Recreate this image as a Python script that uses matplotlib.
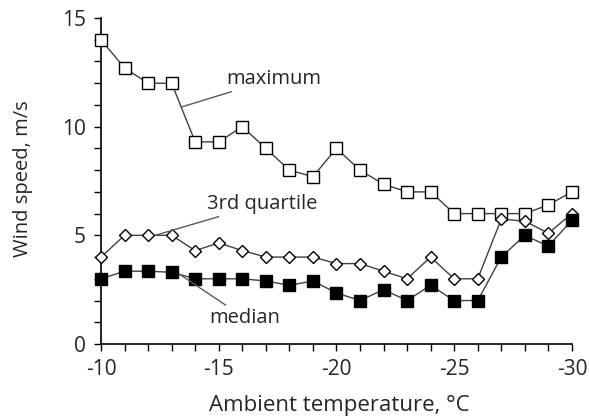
import matplotlib.pyplot as plt
import numpy as np

# ambient temperature, degC
temps = np.arange(-10, -31, -1)

# wind speed, m/s
maximum = [14.0, 12.7, 12.0, 12.0, 9.3, 9.3, 10.0, 9.0, 8.0, 7.7, 9.0,
           8.0, 7.35, 7.0, 7.0, 6.0, 6.0, 6.0, 6.0, 6.4, 7.0]
quartile3 = [4.0, 5.0, 5.0, 5.0, 4.3, 4.65, 4.3, 4.0, 4.0, 4.0, 3.7,
             3.7, 3.35, 3.0, 4.0, 3.0, 3.0, 5.75, 5.65, 5.1, 6.0]
median = [3.0, 3.35, 3.35, 3.3, 3.0, 3.0, 3.0, 2.9, 2.7, 2.9, 2.35,
          2.0, 2.5, 2.0, 2.7, 2.0, 2.0, 4.0, 5.0, 4.5, 5.7]

plt.rcParams['font.family'] = ['Open Sans', 'DejaVu Sans']
plt.rcParams['axes.unicode_minus'] = False

fig = plt.figure(figsize=(5.89, 4.19), dpi=100)
ax = fig.add_axes([0.1715, 0.179, 0.7995, 0.778])

line_col = '#404040'
ax.plot(temps, maximum, color=line_col, lw=1, marker='s', ms=8,
        mfc='white', mec='black', mew=1, clip_on=False, zorder=3)
ax.plot(temps, quartile3, color=line_col, lw=1, marker='D', ms=6.5,
        mfc='white', mec='black', mew=1, clip_on=False, zorder=3)
ax.plot(temps, median, color=line_col, lw=1, marker='s', ms=8,
        mfc='black', mec='black', mew=1, clip_on=False, zorder=3)

# leader-line labels
lbl_col = '#262626'
arrow = dict(arrowstyle='-', color='#595959', lw=1, shrinkA=0, shrinkB=0)
ax.annotate('maximum', xy=(-13.4, 10.9), xytext=(-15.3, 12.2),
            ha='left', va='center', fontsize=14.5, color=lbl_col,
            arrowprops=arrow)
ax.annotate('3rd quartile', xy=(-12.3, 5.0), xytext=(-14.5, 6.45),
            ha='left', va='center', fontsize=14.5, color=lbl_col,
            arrowprops=arrow)
ax.annotate('median', xy=(-13.35, 3.2), xytext=(-14.6, 1.2),
            ha='left', va='center', fontsize=14.5, color=lbl_col,
            arrowprops=arrow)

ax.set_xlim(-10, -30)
ax.set_ylim(0, 15)
ax.set_xticks([-10, -15, -20, -25, -30])
ax.set_xticks(temps, minor=True)
ax.set_yticks([0, 5, 10, 15])
ax.set_yticks(np.arange(0, 16, 1), minor=True)
ax.tick_params(axis='both', which='both', direction='out', length=5,
               width=1, labelsize=15, colors='black', labelcolor=lbl_col,
               pad=6)

for side in ['top', 'right']:
    ax.spines[side].set_visible(False)
for side in ['left', 'bottom']:
    ax.spines[side].set_linewidth(1.2)

ax.set_xlabel('Ambient temperature, °C', fontsize=16, color=lbl_col, va='center')
ax.set_ylabel('Wind speed, m/s', fontsize=14.5, color=lbl_col, va='center')
ax.xaxis.set_label_coords(0.505, -0.19)
ax.yaxis.set_label_coords(-0.165, 0.507)

fig.savefig('out.png', dpi=100)
plt.close()
